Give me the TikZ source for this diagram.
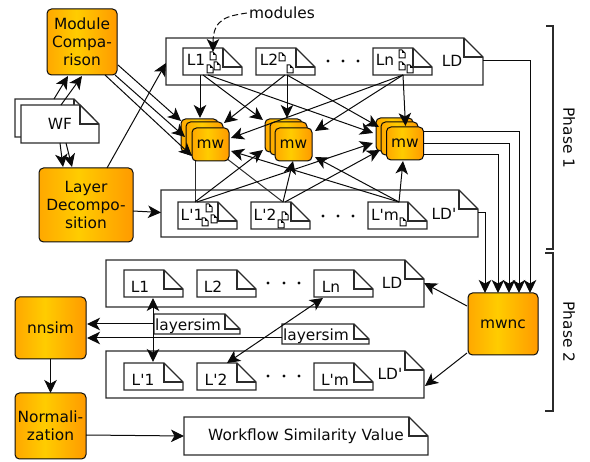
\documentclass[tikz,border=0pt]{standalone}
\usepackage{fontspec}
\newfontfamily\dejavu{DejaVu Sans}
\usetikzlibrary{arrows.meta,calc,fit}
\definecolor{boxL}{HTML}{FFA800}
\definecolor{boxM}{HTML}{FFCC00}
\definecolor{boxR}{HTML}{FF9A00}
\definecolor{ink}{HTML}{0A0A0A}
\definecolor{edge}{HTML}{2B2B2B}
\pgfdeclarehorizontalshading{boxgrad}{100bp}{color(0bp)=(boxL);color(25bp)=(boxL);color(46bp)=(boxM);color(75bp)=(boxR);color(100bp)=(boxR)}
\tikzset{
  x=1pt,y=-1pt,
  every node/.style={font=\dejavu\fontsize{15.4}{17.8}\selectfont,text=ink},
  procbox/.style={draw=ink,line width=1pt,rounded corners=4.5pt,shading=boxgrad,align=center,inner sep=0pt,outer sep=0pt},
  mwbox/.style={procbox,minimum width=37pt,minimum height=33pt},
  docline/.style={draw=edge,line width=1.2pt,fill=white,line join=miter},
  foldline/.style={draw=edge,line width=1.4pt},
  tinyline/.style={draw=ink,line width=1pt,fill=white},
  hold/.style={inner sep=0pt,outer sep=0pt},
  lbl/.style={inner sep=0pt},
  conn/.style={draw=ink,line width=1pt,-{Stealth[length=13pt,width=12.5pt,inset=3.5pt]}},
  both/.style={draw=ink,line width=1pt,{Stealth[length=13pt,width=12.5pt,inset=3.5pt]}-{Stealth[length=13pt,width=12.5pt,inset=3.5pt]}},
  plain/.style={draw=edge,line width=1pt},
  dotmark/.style={circle,fill=ink,inner sep=0pt,minimum size=3.2pt},
  brace/.style={draw=edge,line width=1.1pt}
}
% name, x0, y0, x1, y1, fold, text x, text y, text
\newcommand\docnode[9]{%
  \draw[docline] (#2,#3) -- ({#4-#6},#3) -- (#4,{#3+#6}) -- (#4,#5) -- (#2,#5) -- cycle;
  \draw[foldline] ({#4-#6},#3) -- ({#4-#6},{#3+#6}) -- (#4,{#3+#6});
  \node[fit={(#2,#3)(#4,#5)},hold] (#1) {};
  \node[lbl] (#1t) at (#7,#8) {#9};
}
% tiny document icon: left, top
\newcommand\tinydoc[2]{%
  \draw[tinyline] (#1,#2) -- ({#1+3},#2) -- ({#1+6},{#2+3}) -- ({#1+6},{#2+8}) -- (#1,{#2+8}) -- cycle;
  \draw[draw=ink,line width=1pt] ({#1+3},#2) -- ({#1+3},{#2+3}) -- ({#1+6},{#2+3});
}
\begin{document}
\begin{tikzpicture}
\useasboundingbox (0,0) rectangle (590,462);
% ---- Phase 1
\node[procbox,minimum width=70pt,minimum height=66pt] (mc) at (82,42) {Module\\Compa-\\rison};
\node[procbox,minimum width=94pt,minimum height=74pt] (dec) at (86,205) {Layer\\Decompo-\\sition};
\docnode{wfB}{15}{99}{93}{137}{19}{54}{118}{}
\docnode{wfF}{21}{105}{99}{143}{19}{60}{124}{WF}

\docnode{ldA}{166}{38}{483}{85}{19}{452}{61}{LD}
\docnode{a1}{183}{48}{242}{75}{19}{196}{60}{L1}
\docnode{a2}{256}{48}{315}{75}{19}{269}{60}{L2}
\docnode{an}{373}{48}{432}{75}{19}{385}{60}{Ln}
\tinydoc{210}{52}\tinydoc{207}{65}\tinydoc{214}{62}
\tinydoc{279}{53}\tinydoc{287}{65}
\tinydoc{399}{50}\tinydoc{399}{62}\tinydoc{407}{65}
\node[dotmark] (da1) at (328,61) {};
\node[dotmark] (da2) at (343,61) {};
\node[dotmark] (da3) at (358,61) {};

\docnode{ldB}{161}{190}{478}{237}{19}{444}{214}{LD'}
\docnode{b1}{178}{202}{237}{229}{19}{192}{215}{L'1}
\docnode{b2}{251}{202}{310}{229}{19}{265}{215}{L'2}
\docnode{bm}{368}{202}{427}{229}{19}{385}{215}{L'm}
\tinydoc{206}{204}\tinydoc{202}{218}\tinydoc{211}{215}
\tinydoc{282}{212}\tinydoc{278}{220}
\tinydoc{400}{218}
\node[dotmark] (db1) at (323,216) {};
\node[dotmark] (db2) at (338,216) {};
\node[dotmark] (db3) at (353,216) {};

\node[lbl] (modules) at (282,13) {modules};

% connectors hidden behind the mw stacks
\draw[plain] ($(b1.north west)+(17,0)$) -- (195,158);
\draw[plain] ($(b2.north west)+(32,0)$) -- (226,158);

\node[mwbox] (mwAb) at (199.5,135.5) {};
\node[mwbox] (mwAm) at (204.5,138.5) {};
\node[mwbox] (mwA) at (210.5,144.5) {mw};
\node[mwbox] (mwBb) at (283.5,135.5) {};
\node[mwbox] (mwBm) at (288.5,138.5) {};
\node[mwbox] (mwB) at (293.5,144.5) {mw};
\node[mwbox] (mwCb) at (394.5,134.5) {};
\node[mwbox] (mwCm) at (399.5,138.5) {};
\node[mwbox] (mwC) at (405,143.5) {mw};

% ---- Phase 2
\node[procbox,minimum width=70pt,minimum height=62pt] (mwnc) at (503,324) {mwnc};
\node[procbox,minimum width=71pt,minimum height=62pt] (nnsim) at (50.5,328) {nnsim};
\node[procbox,minimum width=71pt,minimum height=66pt] (norm) at (50.5,426) {Normali-\\zation};

\docnode{ldC}{106}{260}{424}{307}{19}{392}{283}{LD}
\docnode{c1}{124}{270}{183}{297}{19}{140}{287}{L1}
\docnode{c2}{197}{270}{256}{297}{19}{213}{287}{L2}
\docnode{cn}{314}{270}{373}{297}{19}{331}{287}{Ln}
\node[dotmark] (dc1) at (268,283) {};
\node[dotmark] (dc2) at (284,283) {};
\node[dotmark] (dc3) at (299,283) {};

\docnode{ldD}{106}{351}{424}{398}{19}{390}{374}{LD'}
\docnode{d1}{124}{363}{183}{390}{19}{143}{380}{L'1}
\docnode{d2}{197}{363}{256}{390}{19}{216}{380}{L'2}
\docnode{dm}{314}{363}{373}{390}{19}{335}{380}{L'm}
\node[dotmark] (dd1) at (268,376) {};
\node[dotmark] (dd2) at (284,376) {};
\node[dotmark] (dd3) at (299,376) {};

\docnode{simA}{154}{314}{240}{334}{15}{188}{326}{layersim}
\docnode{simB}{282}{324}{369}{344}{15}{316}{336}{layersim}
\docnode{result}{184}{417}{428}{455}{19}{306}{436}{Workflow Similarity Value}

% ---- brackets and phase labels
\draw[brace] (546,26) -- (553,26) -- (553,249) -- (546,249);
\draw[brace] (545,253) -- (553,253) -- (553,411) -- (545,411);
\node[lbl,rotate=-90] (ph1) at (569,138) {Phase 1};
\node[lbl,rotate=-90] (ph2) at (569,332) {Phase 2};

% ---- connectors
\draw[conn,dash pattern=on 6pt off 3pt] ($(modules.west)+(-2,0)$) .. controls (228,16) and (213,18) .. ($(a1.north west)+(30,4)$);

\draw[conn] ($(wfB.north west)+(39,0)$) -- ($(mc.south west)+(21,1)$);
\draw[conn] ($(wfF.north west)+(40,0)$) -- ($(mc.south west)+(35,1)$);
\draw[conn] ($(wfF.south west)+(39,0)$) -- ($(dec.north west)+(24,-1)$);
\draw[conn] ($(wfF.south west)+(45,0)$) -- ($(dec.north west)+(33,-1)$);

\draw[conn] ($(mc.south east)+(1,-10)$) -- ($(mwAb.north west)+(0,2)$);
\draw[conn] ($(mc.south east)+(-2,0)$) -- ($(mwAm.north west)+(-1,15)$);
\draw[conn] ($(mc.south east)+(-12,0)$) -- ($(mwA.north west)+(0,28)$);

\draw[conn] ($(dec.north east)+(-26,0)$) -- ($(ldA.north west)+(0,25)$);
\draw[conn] ($(dec.east)+(0,6)$) -- ($(ldB.west)+(0,-1)$);

\draw[conn] ($(a1.south west)+(17,0)$) -- ($(mwAb.north west)+(19,-1)$);
\draw[conn] ($(a1.south west)+(20,0)$) -- ($(mwBb.north west)+(-2,1)$);
\draw[conn] ($(a1.south west)+(25,0)$) -- ($(mwCb.north west)+(-3,15)$);
\draw[conn] ($(a2.south west)+(29,0)$) -- ($(mwAb.north west)+(43,4)$);
\draw[conn] ($(a2.south west)+(31,0)$) -- ($(mwBb.north west)+(22,-1)$);
\draw[conn] ($(a2.south west)+(31,0)$) -- ($(mwCb.north west)+(3,9)$);
\draw[conn] ($(an.south west)+(30,0)$) -- ($(mwA.north east)+(2,10)$);
\draw[conn] ($(an.south west)+(30,0)$) -- ($(mwB.north east)+(3,3)$);
\draw[conn] ($(an.south west)+(30,0)$) -- ($(mwC.north west)+(19,-1)$);

\draw[conn] ($(b1.north west)+(17,0)$) -- ($(mwBb.south west)+(-2,-2)$);
\draw[conn] ($(b1.north west)+(19,0)$) -- ($(mwCb.south west)+(-3,-8)$);
\draw[conn] ($(b2.north west)+(32,0)$) -- ($(mwB.south)+(-0.5,0)$);
\draw[conn] ($(b2.north west)+(34,0)$) -- ($(mwCb.south west)+(4,-1)$);
\draw[conn] ($(bm.north west)+(31,0)$) -- ($(mwA.south east)+(2,-10)$);
\draw[conn] ($(bm.north west)+(31,0)$) -- ($(mwB.south east)+(3,-4)$);
\draw[conn] ($(bm.north west)+(31,0)$) -- ($(mwC.south)+(-2,1)$);

\draw[conn] ($(ldA.east)+(0,-0.5)$) -| ($(mwnc.north east)+(-8,0)$);
\draw[conn] ($(mwC.north east)+(0,5)$) -| ($(mwnc.north east)+(-19,0)$);
\draw[conn] ($(mwC.east)+(0,0.5)$) -| ($(mwnc.north east)+(-29,0)$);
\draw[conn] ($(mwC.south east)+(0,-5)$) -| ($(mwnc.north east)+(-40,0)$);
\draw[conn] ($(ldB.north east)+(0,23)$) -| ($(mwnc.north west)+(17,0)$);

\draw[conn] ($(mwnc.north west)+(-1,13)$) -- ($(ldC.south east)+(0,-24)$);
\draw[conn] ($(mwnc.south west)+(-1,-2)$) -- ($(ldD.south east)+(1,-12)$);

\draw[both] ($(c1.south west)+(29,1)$) -- ($(d1.north west)+(29,-1)$);
\draw[both] ($(cn.south west)+(9,1)$) -- ($(d2.north west)+(30,0)$);

\draw[conn] ($(simA.north west)+(0,10)$) -- ($(nnsim.north east)+(1,27)$);
\draw[conn] ($(simB.north west)+(0,14)$) -- ($(nnsim.north east)+(1,41)$);
\draw[conn] (nnsim.south) -- (norm.north);
\draw[conn] ($(norm.east)+(0,9)$) -- (result.west);
\end{tikzpicture}
\end{document}
